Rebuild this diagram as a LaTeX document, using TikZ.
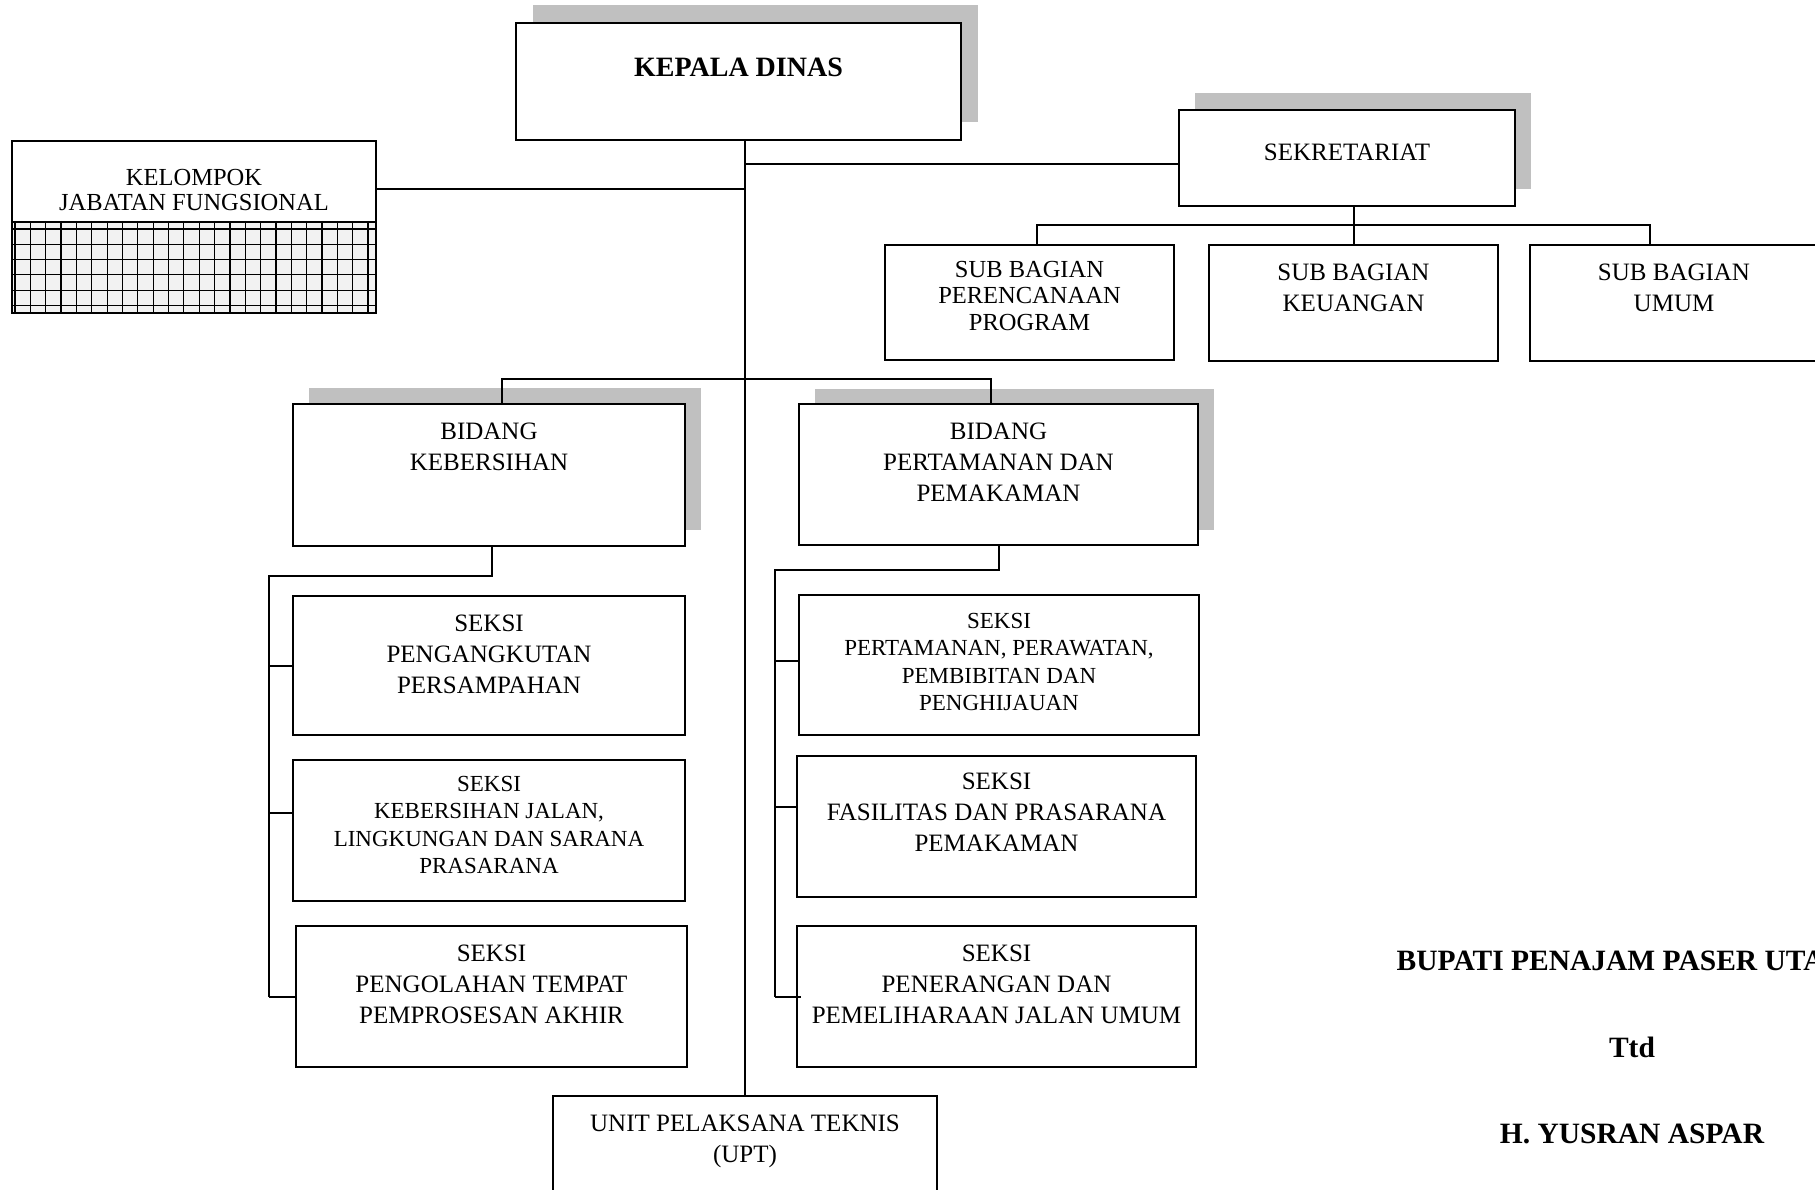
\documentclass[tikz,border=0pt]{standalone}
\usepackage{fontspec}
\setmainfont{Liberation Serif}
\usetikzlibrary{positioning, shadows, calc}
\definecolor{shadowgray}{RGB}{192,192,192}
\newcommand{\fmain}{\fontsize{25}{31}\selectfont}
\newcommand{\fmid}{\fontsize{24.5}{26.5}\selectfont}
\newcommand{\fkjf}{\fontsize{24.5}{25}\selectfont}
\newcommand{\fsmall}{\fontsize{23}{27.5}\selectfont}
\newcommand{\fhead}{\fontsize{28}{33}\selectfont\bfseries}
\newcommand{\fsign}{\fontsize{29.5}{33}\selectfont\bfseries}

\begin{document}
\begin{tikzpicture}[x=1pt, y=-1pt,
  box/.style={draw, line width=2pt, fill=white, inner sep=0pt},
  shadowbox/.style 2 args={box, drop shadow={shadow xshift=#1, shadow yshift=#2, fill=shadowgray, opacity=1}},
  txt/.style={align=center, inner sep=0pt, font=\fmain},
  link/.style={line width=2pt},
  gridline/.style={line width=1.2pt}]
\useasboundingbox (0,0) rectangle (1815,1190);

% pimpinan dan sekretariat
\node[shadowbox={17pt}{18pt}, minimum width=445pt, minimum height=117pt] (kadis) at (738.5,81.5) {};
\node[txt, font=\fhead, below=36pt of kadis.north] (kadist) {KEPALA DINAS};

\node[shadowbox={16pt}{17pt}, minimum width=336pt, minimum height=96pt] (sek) at (1347,158) {};
\node[txt, below=35pt of sek.north] (sekt) {SEKRETARIAT};

\node[box, minimum width=289pt, minimum height=115pt] (renc) at (1029.5,302.5) {};
\node[txt, font=\fmid, below=17pt of renc.north] (renct) {SUB BAGIAN\\PERENCANAAN\\PROGRAM};
\node[box, minimum width=289pt, minimum height=116pt] (keu) at (1353.5,303) {};
\node[txt, below=20pt of keu.north] (keut) {SUB BAGIAN\\KEUANGAN};
\node[box, minimum width=288pt, minimum height=116pt] (umum) at (1674,303) {};
\node[txt, below=20pt of umum.north] (umumt) {SUB BAGIAN\\UMUM};

% kelompok jabatan fungsional
\node[box, minimum width=364pt, minimum height=81pt] (kjf) at (194,181.5) {};
\node[txt, font=\fkjf, below=29pt of kjf.north] (kjft) {KELOMPOK\\JABATAN FUNGSIONAL};
\node[box, fill=black!5, minimum width=364pt, minimum height=91pt] (kjfgrid) at (194,267.5) {};
\foreach \k in {0,...,23}
  \draw[gridline] ([xshift=4pt+\k*15.35pt]kjfgrid.north west) -- ([xshift=4pt+\k*15.35pt]kjfgrid.south west);
\foreach \k in {0,...,5}
  \draw[gridline] ([yshift=-8pt-\k*15.3pt]kjfgrid.north west) -- ([yshift=-8pt-\k*15.3pt]kjfgrid.north east);

% bidang
\node[shadowbox={16pt}{16pt}, minimum width=392pt, minimum height=142pt] (bkeb) at (489,475) {};
\node[txt, below=20pt of bkeb.north] (bkebt) {BIDANG\\KEBERSIHAN};
\node[shadowbox={16pt}{15pt}, minimum width=399pt, minimum height=141pt] (bpert) at (998.5,474.5) {};
\node[txt, below=20pt of bpert.north] (bpertt) {BIDANG\\PERTAMANAN DAN\\PEMAKAMAN};

% seksi bidang kebersihan
\node[box, minimum width=392pt, minimum height=139pt] (s1) at (489,665.5) {};
\node[txt, below=20pt of s1.north] (s1t) {SEKSI\\PENGANGKUTAN\\PERSAMPAHAN};
\node[box, minimum width=392pt, minimum height=141pt] (s2) at (489,830.5) {};
\node[txt, font=\fsmall, below=17pt of s2.north] (s2t) {SEKSI\\KEBERSIHAN JALAN,\\LINGKUNGAN DAN SARANA\\PRASARANA};
\node[box, minimum width=391pt, minimum height=141pt] (s3) at (491.5,996.5) {};
\node[txt, below=20pt of s3.north] (s3t) {SEKSI\\PENGOLAHAN TEMPAT\\PEMPROSESAN AKHIR};

% seksi bidang pertamanan
\node[box, minimum width=400pt, minimum height=140pt] (p1) at (999,665) {};
\node[txt, font=\fsmall, below=19pt of p1.north] (p1t) {SEKSI\\PERTAMANAN, PERAWATAN,\\PEMBIBITAN DAN\\PENGHIJAUAN};
\node[box, minimum width=399pt, minimum height=141pt] (p2) at (996.5,826.5) {};
\node[txt, below=18pt of p2.north] (p2t) {SEKSI\\FASILITAS DAN PRASARANA\\PEMAKAMAN};
\node[box, minimum width=399pt, minimum height=141pt] (p3) at (996.5,996.5) {};
\node[txt, below=20pt of p3.north] (p3t) {SEKSI\\PENERANGAN DAN\\PEMELIHARAAN JALAN UMUM};

% upt
\node[box, minimum width=384pt, minimum height=140pt] (upt) at (745,1166) {};
\node[txt, below=20pt of upt.north] (uptt) {UNIT PELAKSANA TEKNIS\\(UPT)};

% garis
\draw[link] (kadis.south -| upt.north) -- (upt.north);
\draw[link] ([yshift=-7.5pt]kjf.east) -- ([yshift=-7.5pt]kjf.east -| upt.north);
\draw[link] ([yshift=-6pt]sek.west) -- ([yshift=-6pt]sek.west -| upt.north);

\coordinate (sekbus) at ($(sek.south)!0.5!(renc.north)$);
\coordinate (umdrop) at ([xshift=-24pt]umum.north);
\draw[link] (keu.north |- sek.south) -- (keu.north);
\draw[link] ([xshift=7.5pt]renc.north) |- (umdrop |- sekbus) -- (umdrop);

\draw[link] ([xshift=13pt]bkeb.north) -- ++(0,-24) -| ([xshift=-7.5pt]bpert.north);

\coordinate (kbr) at ([xshift=-23pt]s1.west);
\draw[link] ([xshift=3pt]bkeb.south) -- ++(0,29) -| (kbr |- s3.west);
\draw[link] (kbr) -- (s1.west);
\draw[link] ([yshift=17.5pt]kbr |- s2.west) -- ([yshift=17.5pt]s2.west);
\draw[link] (kbr |- s3.west) -- (s3.west);

\coordinate (pbr) at ([xshift=-23pt]p1.west);
\draw[link] (bpert.south) -- ++(0,24) -| (pbr |- p3.west);
\draw[link] ([yshift=4pt]pbr) -- ([yshift=4pt]p1.west);
\draw[link] ([yshift=19.5pt]pbr |- p2.west) -- ([yshift=19.5pt]p2.west);
\draw[link] (pbr |- p3.west) -- ([xshift=5pt]p3.west);

% tanda tangan
\node[font=\fsign, anchor=base] (bupati) at (1632,970) {BUPATI PENAJAM PASER UTARA};
\node[font=\fsign, anchor=base] (ttd) at (1632,1057) {Ttd};
\node[font=\fsign, anchor=base] (yusran) at (1632,1143) {H. YUSRAN ASPAR};
\end{tikzpicture}
\end{document}
